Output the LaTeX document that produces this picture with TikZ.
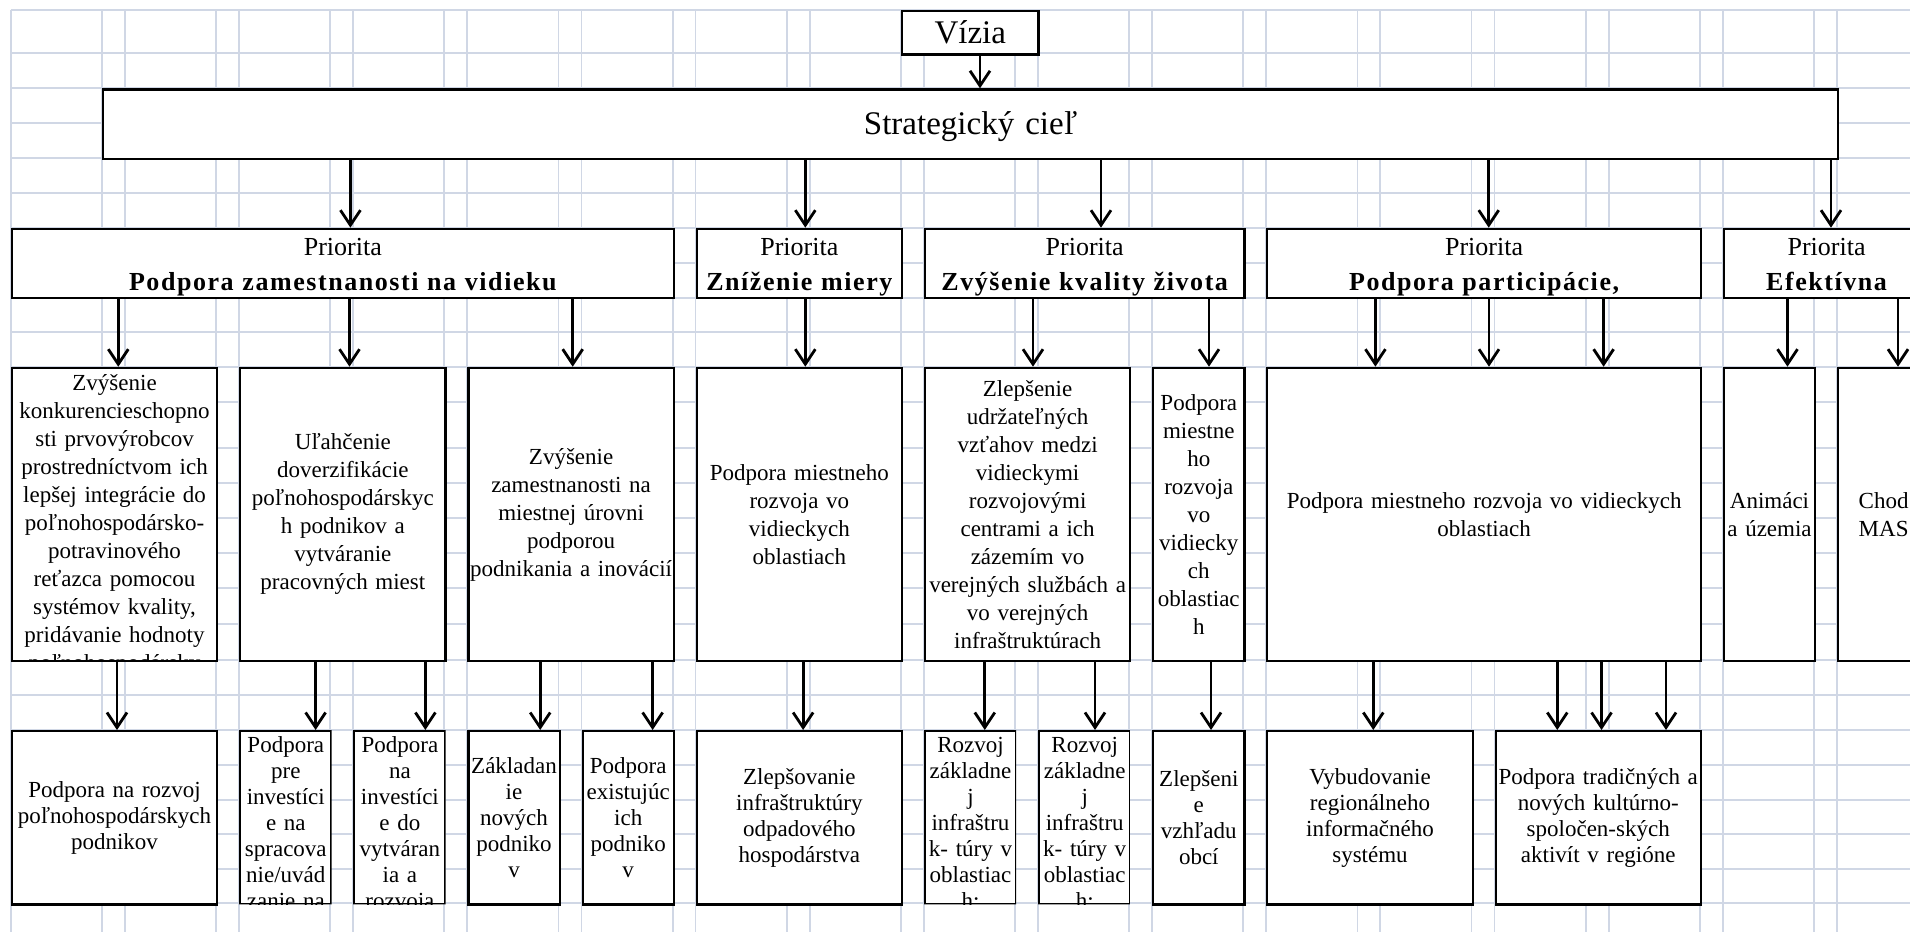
\documentclass[tikz,border=0pt]{standalone}
\usepackage{fontspec}
\setmainfont{Liberation Serif}
\usepackage{tikz}
\usepackage{xcolor}
\usetikzlibrary{arrows.meta}

\definecolor{gridline}{RGB}{208,215,229}
\newcommand{\priohead}[1]{{\bfseries\addfontfeatures{LetterSpace=6}#1}}

\begin{document}
\begin{tikzpicture}
[x=1pt,y=-1pt,
      grid/.style={gridline,line width=1.8pt},
      cell/.style 2 args={draw,fill=white,line width=2.2pt,inner sep=0pt,
      anchor=north west,minimum width=#1,minimum height=#2,
      text width=#1-2,align=center},
      headcell/.style 2 args={cell={#1}{#2},font=\fontsize{33}{40}\selectfont},
      priocell/.style={cell={#1}{69},font=\fontsize{26}{35}\selectfont,
      text height=27.1,text depth=41.9},
      aimcell/.style 2 args={cell={#1}{#2},font=\fontsize{23}{28}\selectfont},
      measurecell/.style 2 args={cell={#1}{#2},font=\fontsize{23}{26}\selectfont},
      arr/.style={line width=2.8pt,-{Straight Barb[length=15pt,width=20pt]}}]
\useasboundingbox (0,0) rectangle (1910,932);
\clip (0,0) rectangle (1910,932);
\fill[white] (0,0) rectangle (1910,932);
\foreach \k in {0,...,16}
  \draw[grid] ({10.8+114.13*\k},10) -- ({10.8+114.13*\k},932);
\foreach \k in {0,...,15}
  \draw[grid] ({102+114.13*\k},10) -- ({102+114.13*\k},932);
\foreach \y in {10,53.3,88.3,122.7,157.7,192.7,227.7,262.7,297.7,331.7,366.7,401.7,
  448.3,483.3,518.3,552.7,587.7,624,660,695,730,765,800,834.3,869.3,903.3}
  \draw[grid] (10.8,\y) -- (1910,\y);

\node[headcell={136.5}{43.3}] (vizia) at (900.9,10) {Vízia};
\node[headcell={1734.9}{69.4},text height=44.9,text depth=24.5] (strat) at (102,88.3) {Strategický cieľ};

\node[priocell=661.9] (p1) at (10.8,227.7) {Priorita\\\priohead{Podpora zamestnanosti na vidieku}};
\node[priocell=205.3] (p2) at (695.6,227.7) {Priorita\\\priohead{Zníženie miery}};
\node[priocell=319.5] (p3) at (923.8,227.7) {Priorita\\\priohead{Zvýšenie kvality života}};
\node[priocell=433.6] (p4) at (1266.2,227.7) {Priorita\\\priohead{Podpora participácie,}};
\node[priocell=205.3] (p5) at (1722.8,227.7) {Priorita\\\priohead{Efektívna}};

\begin{scope}
\clip (9,365) rectangle (218,661.2);
\node[aimcell={205.3}{293.3},text height=22.5,text depth=270.8] (b1) at (10.8,366.7)
  {Zvýšenie\\konkurencieschopno\\sti prvovýrobcov\\prostredníctvom ich\\lepšej integrácie do\\
   poľnohospodársko-\\potravinového\\reťazca pomocou\\systémov kvality,\\pridávanie hodnoty\\poľnohospodársky};
\end{scope}
\node[aimcell={205.3}{293.3}] (b2) at (239.1,366.7)
  {Uľahčenie\\doverzifikácie\\poľnohospodárskyc\\h podnikov a\\vytváranie\\pracovných miest};
\node[aimcell={205.4}{293.3}] (b3) at (467.3,366.7)
  {Zvýšenie\\zamestnanosti na\\miestnej úrovni\\podporou\\podnikania a inovácií};
\node[aimcell={205.3}{293.3}] (b4) at (695.6,366.7)
  {Podpora miestneho\\rozvoja vo\\vidieckych\\oblastiach};
\node[aimcell={205.4}{293.3}] (b5) at (923.8,366.7)
  {Zlepšenie\\udržateľných\\vzťahov medzi\\vidieckymi\\rozvojovými\\centrami a ich\\zázemím vo\\
   verejných službách a\\vo verejných\\infraštruktúrach};
\node[aimcell={91.2}{293.3}] (b6) at (1152.1,366.7)
  {Podpora\\miestne\\ho\\rozvoja\\vo\\vidiecky\\ch\\oblastiac\\h};
\node[aimcell={433.6}{293.3}] (b7) at (1266.2,366.7)
  {Podpora miestneho rozvoja vo vidieckych\\oblastiach};
\node[aimcell={91.2}{293.3}] (b8) at (1722.8,366.7) {Animáci\\a územia};
\node[aimcell={91.2}{293.3}] (b9) at (1836.9,366.7) {Chod\\MAS};

\node[measurecell={205.3}{173.3}] (c1) at (10.8,730)
  {Podpora na rozvoj\\poľnohospodárskych\\podnikov};
\begin{scope}
\clip (237.5,728.5) rectangle (331.5,904.4) (351.6,728.5) rectangle (445.6,904.4)
  (922.2,728.5) rectangle (1016.2,904.4) (1036.4,728.5) rectangle (1130.4,904.4);
\node[measurecell={91.2}{173.3},text height=21.5,text depth=151.8] (c2) at (239.1,730)
  {Podpora\\pre\\investíci\\e na\\spracova\\nie/uvád\\zanie na};
\node[measurecell={91.2}{173.3},text height=21.5,text depth=151.8] (c3) at (353.2,730)
  {Podpora\\na\\investíci\\e do\\vytváran\\ia a\\rozvoja};
\node[measurecell={91.2}{173.3},text height=21.5,text depth=151.8] (c7) at (923.8,730)
  {Rozvoj\\základne\\j\\infraštru\\k- túry v\\oblastiac\\h:};
\node[measurecell={91.2}{173.3},text height=21.5,text depth=151.8] (c8) at (1038,730)
  {Rozvoj\\základne\\j\\infraštru\\k- túry v\\oblastiac\\h:};
\end{scope}
\node[measurecell={91.2}{173.3}] (c4) at (467.3,730) {Základan\\ie\\nových\\podniko\\v};
\node[measurecell={91.2}{173.3}] (c5) at (581.5,730) {Podpora\\existujúc\\ich\\podniko\\v};
\node[measurecell={205.3}{173.3}] (c6) at (695.6,730)
  {Zlepšovanie\\infraštruktúry\\odpadového\\hospodárstva};
\node[measurecell={91.2}{173.3}] (c9) at (1152.1,730) {Zlepšeni\\e\\vzhľadu\\obcí};
\node[measurecell={205.4}{173.3}] (c10) at (1266.2,730)
  {Vybudovanie\\regionálneho\\informačného\\systému};
\node[measurecell={205.3}{173.3}] (c11) at (1494.5,730)
  {Podpora tradičných a\\nových kultúrno-\\spoločen-ských\\aktivít v regióne};

\draw[arr] (vizia.south -| 980,0) -- (strat.north -| 980,0);
\draw[arr] (strat.south -| 350.4,0) -- (p1.north -| 350.4,0);
\draw[arr] (strat.south -| 805.3,0) -- (p2.north -| 805.3,0);
\draw[arr] (strat.south -| 1101,0) -- (p3.north -| 1101,0);
\draw[arr] (strat.south -| 1488.7,0) -- (p4.north -| 1488.7,0);
\draw[arr] (strat.south -| 1831,0) -- (p5.north -| 1831,0);

\draw[arr] (p1.south -| 118.3,0) -- (b1.north -| 118.3,0);
\draw[arr] (p1.south -| 349.5,0) -- (b2.north -| 349.5,0);
\draw[arr] (p1.south -| 572.7,0) -- (b3.north -| 572.7,0);
\draw[arr] (p2.south -| 805.3,0) -- (b4.north -| 805.3,0);
\draw[arr] (p3.south -| 1033,0) -- (b5.north -| 1033,0);
\draw[arr] (p3.south -| 1209,0) -- (b6.north -| 1209,0);
\draw[arr] (p4.south -| 1375.4,0) -- (b7.north -| 1375.4,0);
\draw[arr] (p4.south -| 1489,0) -- (b7.north -| 1489,0);
\draw[arr] (p4.south -| 1603.6,0) -- (b7.north -| 1603.6,0);
\draw[arr] (p5.south -| 1787.5,0) -- (b8.north -| 1787.5,0);
\draw[arr] (p5.south -| 1898,0) -- (b9.north -| 1898,0);

\draw[arr] (b1.south -| 117,0) -- (c1.north -| 117,0);
\draw[arr] (b2.south -| 315.6,0) -- (c2.north -| 315.6,0);
\draw[arr] (b2.south -| 425.4,0) -- (c3.north -| 425.4,0);
\draw[arr] (b3.south -| 540.2,0) -- (c4.north -| 540.2,0);
\draw[arr] (b3.south -| 652.6,0) -- (c5.north -| 652.6,0);
\draw[arr] (b4.south -| 803.1,0) -- (c6.north -| 803.1,0);
\draw[arr] (b5.south -| 984.8,0) -- (c7.north -| 984.8,0);
\draw[arr] (b5.south -| 1095,0) -- (c8.north -| 1095,0);
\draw[arr] (b6.south -| 1211,0) -- (c9.north -| 1211,0);
\draw[arr] (b7.south -| 1373.3,0) -- (c10.north -| 1373.3,0);
\draw[arr] (b7.south -| 1557.3,0) -- (c11.north -| 1557.3,0);
\draw[arr] (b7.south -| 1601.5,0) -- (c11.north -| 1601.5,0);
\draw[arr] (b7.south -| 1666,0) -- (c11.north -| 1666,0);
\end{tikzpicture}
\end{document}
